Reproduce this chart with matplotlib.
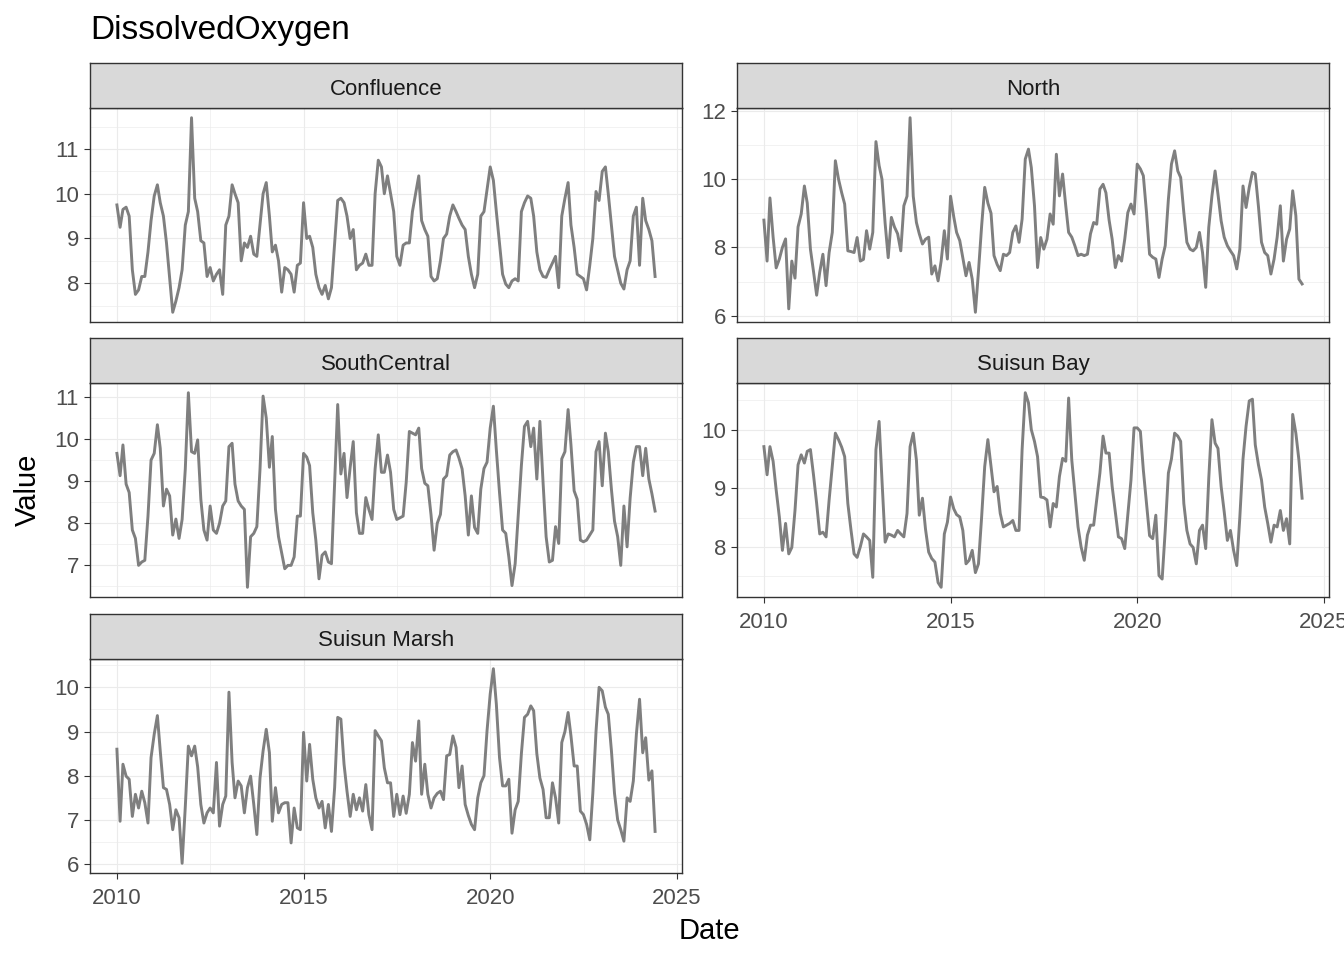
import numpy as np
import pandas as pd
import matplotlib
matplotlib.use("Agg")
import matplotlib.pyplot as plt
import matplotlib.dates as mdates
from matplotlib.ticker import MultipleLocator

plt.rcParams['font.family'] = ['Liberation Sans', 'DejaVu Sans']

# monthly samples, Jan 2010 .. Jun 2024
dates = pd.date_range('2010-01-01', periods=174, freq='MS')

confluence = [
    9.75, 9.25, 9.65, 9.7, 9.5, 8.3, 7.75, 7.85, 8.15, 8.15, 8.7, 9.4,
    9.95, 10.2, 9.8, 9.5, 8.9, 8.1, 7.35, 7.6, 7.9, 8.3, 9.3, 9.6,
    11.7, 9.9, 9.6, 8.95, 8.9, 8.15, 8.35, 8.05, 8.2, 8.3, 7.75, 9.3,
    9.5, 10.2, 10.0, 9.8, 8.5, 8.9, 8.8, 9.05, 8.65, 8.6, 9.3, 10.0,
    10.25, 9.5, 8.7, 8.85, 8.5, 7.8, 8.35, 8.3, 8.2, 7.8, 8.4, 8.45,
    9.8, 9.0, 9.05, 8.8, 8.2, 7.9, 7.75, 7.95, 7.65, 7.9, 8.9, 9.85,
    9.9, 9.8, 9.5, 9.0, 9.2, 8.3, 8.4, 8.45, 8.65, 8.4, 8.4, 10.0,
    10.75, 10.6, 10.0, 10.4, 10.0, 9.6, 8.6, 8.4, 8.85, 8.9, 8.9, 9.6,
    10.0, 10.4, 9.4, 9.2, 9.05, 8.15, 8.05, 8.1, 8.5, 9.0, 9.1, 9.5,
    9.75, 9.6, 9.45, 9.3, 9.2, 8.6, 8.2, 7.9, 8.2, 9.5, 9.6, 10.1,
    10.6, 10.3, 9.6, 8.9, 8.2, 7.98, 7.9, 8.05, 8.1, 8.05, 9.6, 9.8,
    9.95, 9.9, 9.5, 8.7, 8.3, 8.15, 8.13, 8.3, 8.45, 8.6, 7.9, 9.5,
    9.9, 10.25, 9.3, 8.8, 8.2, 8.15, 8.1, 7.85, 8.4, 9.0, 10.05, 9.85,
    10.5, 10.6, 10.0, 9.3, 8.6, 8.3, 8.0, 7.87, 8.3, 8.5, 9.5, 9.7,
    8.4, 9.9, 9.4, 9.2, 8.95, 8.15,
]

north = [
    8.8, 7.6, 9.45, 8.3, 7.4, 7.66, 8.0, 8.25, 6.2, 7.6, 7.1, 8.6,
    8.98, 9.8, 9.3, 7.95, 7.3, 6.6, 7.27, 7.8, 6.88, 7.85, 8.44, 10.54,
    10.0, 9.6, 9.27, 7.9, 7.88, 7.85, 8.29, 7.6, 7.65, 8.49, 7.95, 8.44,
    11.1, 10.4, 10.0, 8.7, 7.7, 8.88, 8.6, 8.4, 7.9, 9.22, 9.5, 11.8,
    9.5, 8.73, 8.4, 8.1, 8.24, 8.3, 7.22, 7.46, 7.02, 7.6, 8.49, 7.66,
    9.5, 8.9, 8.44, 8.2, 7.7, 7.17, 7.56, 7.07, 6.1, 7.3, 8.63, 9.76,
    9.3, 9.0, 7.76, 7.5, 7.32, 7.8, 7.76, 7.85, 8.44, 8.63, 8.15, 8.83,
    10.59, 10.88, 10.34, 9.22, 7.41, 8.29, 7.95, 8.24, 8.98, 8.68, 10.73, 9.51,
    10.15, 9.22, 8.44, 8.3, 8.05, 7.76, 7.8, 7.76, 7.8, 8.4, 8.73, 8.68,
    9.71, 9.85, 9.6, 8.8, 8.24, 7.41, 7.76, 7.6, 8.24, 9.02, 9.27, 8.98,
    10.44, 10.3, 10.1, 9.02, 7.8, 7.71, 7.66, 7.12, 7.66, 8.05, 9.41, 10.44,
    10.83, 10.24, 10.05, 9.02, 8.15, 7.95, 7.9, 8.0, 8.44, 7.85, 6.83, 8.59,
    9.51, 10.24, 9.56, 8.78, 8.3, 8.05, 7.9, 7.76, 7.37, 7.95, 9.8, 9.17,
    9.76, 10.2, 10.15, 9.2, 8.15, 7.85, 7.76, 7.22, 7.66, 8.3, 9.22, 7.6,
    8.24, 8.54, 9.66, 8.93, 7.07, 6.93,
]

south_central = [
    9.66, 9.13, 9.86, 8.93, 8.73, 7.84, 7.64, 7.0, 7.08, 7.12, 8.17, 9.5,
    9.66, 10.34, 9.78, 8.41, 8.81, 8.65, 7.72, 8.1, 7.64, 8.09, 9.29, 11.1,
    9.7, 9.66, 9.98, 8.57, 7.84, 7.6, 8.41, 7.84, 7.76, 8.0, 8.41, 8.53,
    9.82, 9.9, 8.93, 8.53, 8.41, 8.33, 6.48, 7.68, 7.76, 7.92, 9.29, 11.02,
    10.5, 9.33, 10.06, 8.33, 7.68, 7.3, 6.92, 7.0, 7.0, 7.2, 8.17, 8.17,
    9.66, 9.57, 9.37, 8.25, 7.6, 6.68, 7.24, 7.32, 7.08, 7.04, 8.97, 10.82,
    9.17, 9.66, 8.61, 9.33, 9.94, 8.25, 7.76, 7.76, 8.61, 8.33, 8.09, 9.29,
    10.1, 9.21, 9.21, 9.62, 9.21, 8.33, 8.09, 8.13, 8.17, 8.97, 10.18, 10.14,
    10.1, 10.26, 9.3, 8.95, 8.89, 8.2, 7.36, 8.0, 8.21, 9.05, 9.13, 9.62,
    9.7, 9.74, 9.55, 9.29, 8.65, 7.72, 8.65, 7.9, 7.76, 8.81, 9.3, 9.45,
    10.26, 10.78, 9.74, 8.73, 7.84, 7.76, 7.2, 6.52, 7.04, 8.17, 9.37, 10.3,
    10.42, 9.82, 10.26, 9.05, 10.42, 8.97, 7.68, 7.08, 7.12, 7.92, 7.52, 9.53,
    9.7, 10.7, 9.86, 8.77, 8.57, 7.6, 7.56, 7.6, 7.72, 7.84, 9.7, 9.94,
    8.89, 10.14, 9.7, 8.8, 8.05, 7.68, 7.0, 8.41, 7.44, 8.6, 9.45, 9.82,
    9.82, 9.13, 9.78, 9.05, 8.7, 8.29,
]

suisun_bay = [
    9.71, 9.23, 9.71, 9.46, 8.97, 8.51, 7.94, 8.4, 7.88, 7.99, 8.62, 9.4,
    9.57, 9.43, 9.63, 9.66, 9.23, 8.74, 8.22, 8.25, 8.17, 8.8, 9.37, 9.94,
    9.83, 9.7, 9.54, 8.74, 8.3, 7.88, 7.82, 8.0, 8.22, 8.17, 8.11, 7.48,
    9.66, 10.14, 9.14, 8.08, 8.22, 8.2, 8.17, 8.28, 8.22, 8.17, 8.57, 9.71,
    9.94, 9.48, 8.54, 8.83, 8.3, 7.91, 7.8, 7.74, 7.39, 7.31, 8.22, 8.42,
    8.85, 8.65, 8.55, 8.51, 8.28, 7.71, 7.77, 7.94, 7.56, 7.71, 8.51, 9.37,
    9.83, 9.37, 8.94, 9.03, 8.57, 8.34, 8.37, 8.4, 8.45, 8.28, 8.28, 9.66,
    10.63, 10.46, 10.0, 9.8, 9.54, 8.85, 8.84, 8.8, 8.34, 8.74, 8.68, 9.2,
    9.51, 9.46, 10.54, 9.48, 8.91, 8.34, 8.0, 7.77, 8.2, 8.37, 8.37, 8.8,
    9.26, 9.89, 9.6, 9.6, 9.03, 8.6, 8.17, 8.14, 7.97, 8.54, 9.14, 10.03,
    10.03, 9.97, 9.31, 8.75, 8.19, 8.14, 8.54, 7.51, 7.45, 8.28, 9.26, 9.5,
    9.94, 9.89, 9.8, 8.74, 8.28, 8.05, 7.99, 7.71, 8.28, 8.37, 7.97, 9.17,
    10.17, 9.77, 9.68, 9.03, 8.6, 8.11, 8.28, 7.94, 7.68, 8.51, 9.5, 10.06,
    10.49, 10.52, 9.74, 9.4, 9.14, 8.68, 8.4, 8.08, 8.37, 8.34, 8.62, 8.28,
    8.48, 8.05, 10.26, 9.94, 9.48, 8.83,
]

suisun_marsh = [
    8.6, 6.97, 8.26, 7.99, 7.92, 7.08, 7.58, 7.27, 7.65, 7.39, 6.93, 8.41,
    8.94, 9.36, 8.56, 7.73, 7.69, 7.35, 6.78, 7.23, 7.05, 6.02, 7.3, 8.67,
    8.45, 8.67, 8.2, 7.35, 6.93, 7.16, 7.27, 7.16, 8.3, 6.86, 7.35, 7.54,
    9.89, 8.3, 7.5, 7.88, 7.77, 7.16, 7.73, 7.99, 7.35, 6.67, 7.95, 8.56,
    9.05, 8.52, 6.97, 7.73, 7.16, 7.35, 7.39, 7.39, 6.48, 7.27, 6.82, 6.78,
    8.98, 7.88, 8.71, 7.92, 7.5, 7.27, 7.42, 6.82, 7.35, 6.74, 7.73, 9.32,
    9.28, 8.26, 7.65, 7.08, 7.58, 7.23, 7.5, 7.2, 7.8, 7.12, 6.78, 9.02,
    8.9, 8.79, 8.18, 7.84, 7.84, 7.08, 7.58, 7.12, 7.54, 7.15, 7.58, 8.75,
    8.33, 9.24, 7.58, 8.26, 7.58, 7.27, 7.5, 7.6, 7.65, 7.46, 8.45, 8.48,
    8.9, 8.64, 7.73, 8.22, 7.35, 7.1, 6.9, 6.78, 7.5, 7.84, 8.0, 9.02,
    9.85, 10.42, 9.62, 8.41, 7.77, 7.77, 7.92, 6.7, 7.23, 7.42, 8.5, 9.32,
    9.39, 9.58, 9.47, 8.5, 7.95, 7.69, 7.05, 7.05, 7.84, 7.5, 6.93, 8.75,
    9.0, 9.43, 8.9, 8.22, 8.22, 7.2, 7.12, 6.9, 6.55, 7.61, 9.0, 10.0,
    9.92, 9.55, 9.39, 8.56, 7.6, 7.0, 6.78, 6.52, 7.5, 7.42, 7.88, 8.94,
    9.73, 8.52, 8.86, 7.9, 8.11, 6.74,
]

sites = ['Confluence', 'North', 'SouthCentral', 'Suisun Bay', 'Suisun Marsh']
series = [confluence, north, south_central, suisun_bay, suisun_marsh]
y_step = [1, 2, 1, 1, 1]

W, H = 1344, 960
fig = plt.figure(figsize=(W / 100, H / 100), dpi=100)

# panel boxes in pixels: left, top of strip, width; strip 45 px, plot 214 px
cols = [90, 737]
rows = [63, 338, 614]
pw, sh, ph = 592, 45, 214
border = '#333333'
grid = '#EBEBEB'

x0 = pd.Timestamp('2010-01-01')
x1 = dates[-1]
span = x1 - x0
xlim = (mdates.date2num(x0 - span * 0.05), mdates.date2num(x1 + span * 0.05))
majors = [pd.Timestamp(f'{y}-01-01') for y in (2010, 2015, 2020, 2025)]
minors = [pd.Timestamp(f'{y}-07-02') for y in (2012, 2017, 2022)]

for i, (name, vals) in enumerate(zip(sites, series)):
    r, c = divmod(i, 2)
    left = cols[c]
    top = rows[r]
    ax = fig.add_axes([left / W, 1 - (top + sh + ph) / H, pw / W, ph / H])
    st = fig.add_axes([left / W, 1 - (top + sh) / H, pw / W, sh / H])

    st.set_facecolor('#D9D9D9')
    st.set_xticks([])
    st.set_yticks([])
    for s in st.spines.values():
        s.set_color(border)
        s.set_linewidth(1.0)
    st.text(0.5, 0.42, name, ha='center', va='center', fontsize=16,
            color='#1A1A1A', transform=st.transAxes)

    ax.plot(dates, vals, color='#7F7F7F', linewidth=2.1, zorder=3)

    ax.set_xticks(majors)
    ax.set_xticks(minors, minor=True)
    ax.xaxis.set_major_formatter(mdates.DateFormatter('%Y'))
    ax.yaxis.set_major_locator(MultipleLocator(y_step[i]))
    ax.yaxis.set_minor_locator(MultipleLocator(y_step[i] / 2))
    ax.set_xlim(xlim)
    v = np.array(vals)
    pad = (v.max() - v.min()) * 0.05
    ax.set_ylim(v.min() - pad, v.max() + pad)

    ax.grid(True, which='major', color=grid, linewidth=0.8, zorder=0)
    ax.grid(True, which='minor', color=grid, linewidth=0.45, zorder=0)
    ax.set_axisbelow(True)
    for s in ax.spines.values():
        s.set_color(border)
        s.set_linewidth(1.0)

    ax.tick_params(axis='both', which='major', length=4, width=0.8,
                   color=border, labelsize=16, labelcolor='#4D4D4D', pad=4)
    ax.tick_params(axis='x', which='major', pad=7)
    ax.tick_params(axis='both', which='minor', length=0)

    # x axis only on the lowest panel of each column
    if name not in ('Suisun Bay', 'Suisun Marsh'):
        ax.tick_params(axis='x', which='major', length=0, labelbottom=False)

fig.text(90 / W, 1 - 31 / H, 'DissolvedOxygen', fontsize=24, color='black',
         ha='left', va='center')
fig.text(709 / W, 1 - 931 / H, 'Date', fontsize=21, ha='center', va='center')
fig.text(28 / W, 1 - 490 / H, 'Value', fontsize=21, ha='center', va='center',
         rotation=90)

fig.savefig('out.png', dpi=100)
